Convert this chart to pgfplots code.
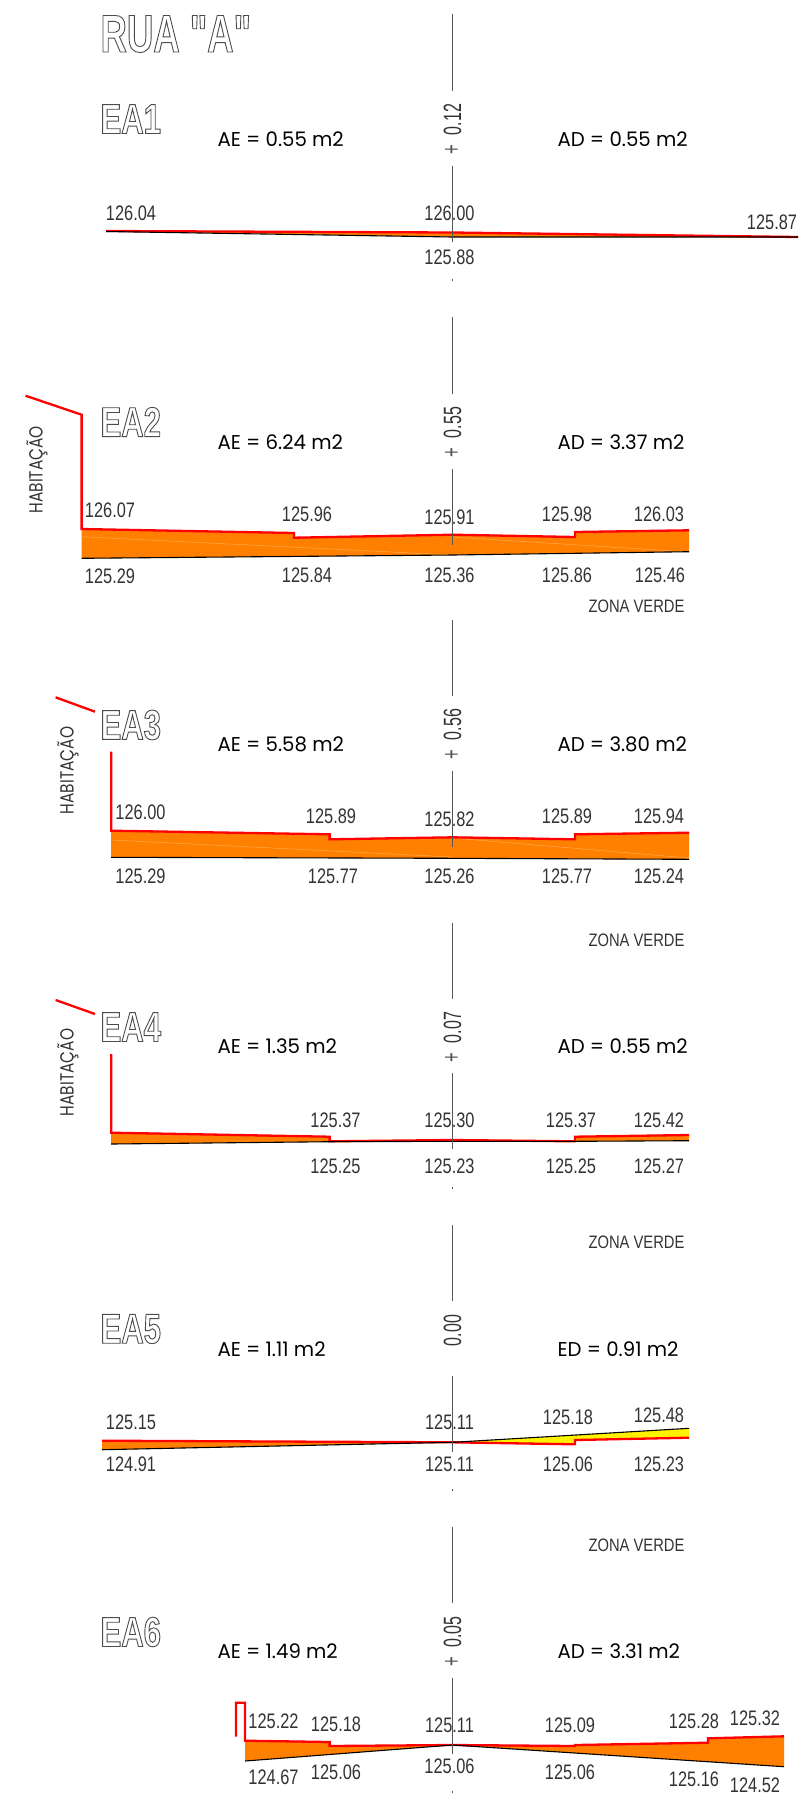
\documentclass[border=0pt]{standalone}
\usepackage{fontspec}
\usepackage{pgfplots}
\pgfplotsset{compat=1.18}
\setmainfont{Liberation Sans}
\newfontfamily\numfont[FakeStretch=0.78]{Liberation Sans}
\newfontfamily\cfont[FakeStretch=0.64]{Liberation Sans}
\newfontfamily\areafont[FakeStretch=0.985]{Poppins}
\newfontfamily\zonafont[FakeStretch=0.82]{Liberation Sans}
\newfontfamily\habfont[FakeStretch=0.81]{Poppins}
\newfontfamily\titlefont[FakeStretch=0.69]{Liberation Sans}
\newfontfamily\eafont[FakeStretch=0.74]{Liberation Sans}
\definecolor{terra}{HTML}{FF8000}
\definecolor{streak}{HTML}{FFA850}
\definecolor{linegray}{HTML}{555555}
\definecolor{txt}{HTML}{333333}
% outlined lettering
\newcommand\outl[1]{\special{pdf:code q 1 Tr 0.9 w 0.3 0.3 0.3 RG}#1\special{pdf:code Q}}
\newcommand\num[3]{\node[txt] at (axis cs:#1,#2) {\fontsize{21pt}{21pt}\numfont #3};}
\newcommand\area[3]{\node[black,anchor=west] at (axis cs:#1,#2) {\fontsize{20pt}{20pt}\areafont #3};}
\newcommand\zona[1]{\node[txt] at (axis cs:636.5,#1) {\fontsize{18pt}{18pt}\zonafont ZONA VERDE};}
\newcommand\hab[2]{\node[txt,rotate=90] at (axis cs:#1,#2) {\fontsize{19pt}{19pt}\habfont HABITAÇÃO};}
\newcommand\ea[2]{\node[anchor=west] at (axis cs:97,#1) {\fontsize{42pt}{42pt}\eafont\bfseries\outl{#2}};}
\newcommand\cota[2]{\node[txt,rotate=90] at (axis cs:452.6,#1) {\fontsize{25pt}{25pt}\cfont #2};}
\newcommand\plus[1]{\node[linegray,rotate=90] at (axis cs:452.6,#1) {\fontsize{26pt}{26pt}\cfont +};}
\begin{document}
\begin{tikzpicture}
\begin{axis}[
  scale only axis,
  width=799pt,
  height=1800pt,
  xmin=0, xmax=799,
  ymin=0, ymax=1800,
  y dir=reverse,
  hide axis,
  clip=false,
  every node/.append style={inner sep=0pt,outer sep=0pt},
]
% keeps the page at the full drawing size
\path (axis cs:0,0) rectangle (axis cs:799,1800);
% EA1
\addplot[fill=terra,draw=none] coordinates {(106,231) (452.6,232.5) (798,237) (452.6,237)} -- cycle;
\addplot[red,line width=2.3pt] coordinates {(106,231) (452.6,232.5) (798,237)};
\addplot[black,line width=1.1pt] coordinates {(106,231.5) (452.6,237) (798,237)};
% EA2
\addplot[fill=terra,draw=none] coordinates {(81.6,529) (294,533) (294,537.7) (452.6,534.7) (575,537) (575,532) (689,530.3) (689,551.7) (452.6,555) (81.6,558.3)} -- cycle;
\addplot[streak,line width=0.5pt] coordinates {(81.6,536.7) (452.6,555)};
\addplot[streak,line width=0.5pt] coordinates {(452.6,537) (689,552)};
\addplot[red,line width=2.3pt] coordinates {(25.5,395.7) (81.6,414.7) (81.6,529) (294,533) (294,537.7) (452.6,534.7) (575,537) (575,532) (689,530.3)};
\addplot[black,line width=1.1pt] coordinates {(81.6,558.3) (452.6,555) (689,551.7)};
% EA3
\addplot[fill=terra,draw=none] coordinates {(111.2,830.7) (329.6,834.3) (329.6,839.3) (452.6,837.3) (575,839.3) (575,834.3) (689,832.7) (689,859.3) (452.6,858.3) (111.2,857.3)} -- cycle;
\addplot[streak,line width=0.5pt] coordinates {(111.2,840) (452.6,857)};
\addplot[streak,line width=0.5pt] coordinates {(452.6,838) (689,858)};
\addplot[red,line width=2.3pt] coordinates {(55.6,697.3) (95,711.7)};
\addplot[red,line width=2.3pt] coordinates {(111.2,751.7) (111.2,830.7) (329.6,834.3) (329.6,839.3) (452.6,837.3) (575,839.3) (575,834.3) (689,832.7)};
\addplot[black,line width=1.1pt] coordinates {(111.2,857.3) (452.6,858.3) (689,859.3)};
% EA4
\addplot[fill=terra,draw=none] coordinates {(111.2,1132.7) (329.6,1136.7) (329.6,1141.7) (111.2,1144)} -- cycle;
\addplot[fill=terra,draw=none] coordinates {(575,1136.7) (689,1135) (689,1140.7) (575,1141.3)} -- cycle;
\addplot[red,line width=2.3pt] coordinates {(55.6,1000) (95,1014)};
\addplot[red,line width=2.3pt] coordinates {(111.2,1054) (111.2,1132.7) (329.6,1136.7) (329.6,1141.3) (452.6,1140) (575,1141.3) (575,1136.7) (689,1135)};
\addplot[black,line width=1.1pt] coordinates {(111.2,1144) (329.6,1141.7) (452.6,1141.3) (575,1141.3) (689,1140.7)};
% EA5
\addplot[fill=terra,draw=none] coordinates {(102,1440.7) (452.6,1442.3) (102,1449.7)} -- cycle;
\addplot[fill=yellow,draw=none] coordinates {(452.6,1442.3) (689,1428.3) (689,1437.7) (575,1440) (575,1444.3)} -- cycle;
\addplot[red,line width=2.3pt] coordinates {(102,1440.7) (452.6,1442.3) (575,1444.3) (575,1440) (689,1437.7)};
\addplot[black,line width=1.1pt] coordinates {(102,1449.7) (452.6,1442.3) (689,1428.3)};
% EA6
\addplot[fill=terra,draw=none] coordinates {(245,1740.7) (329.6,1742) (329.6,1746) (452.6,1745) (575,1746) (575,1745) (708,1742.7) (708,1738.3) (784,1736.3) (784,1766.7) (452.6,1745) (245,1761)} -- cycle;
\addplot[red,line width=2.3pt] coordinates {(236,1736.7) (236,1702.7) (245,1702.7) (245,1740.7) (329.6,1742) (329.6,1746) (452.6,1745) (575,1746) (575,1745) (708,1742.7) (708,1738.3) (784,1736.3)};
\addplot[black,line width=1.1pt] coordinates {(245,1761) (452.6,1745) (784,1766.7)};
% centre line, pieces between the labels
\addplot[linegray,line width=1pt] coordinates {(452.6,14) (452.6,91)};
\addplot[linegray,line width=1pt] coordinates {(452.6,166) (452.6,242)};
\addplot[linegray,line width=1pt] coordinates {(452.6,279) (452.6,280.5)};
\addplot[linegray,line width=1pt] coordinates {(452.6,317) (452.6,394)};
\addplot[linegray,line width=1pt] coordinates {(452.6,469) (452.6,545)};
\addplot[linegray,line width=1pt] coordinates {(452.6,620) (452.6,696)};
\addplot[linegray,line width=1pt] coordinates {(452.6,771) (452.6,847)};
\addplot[linegray,line width=1pt] coordinates {(452.6,923) (452.6,999)};
\addplot[linegray,line width=1pt] coordinates {(452.6,1073) (452.6,1149)};
\addplot[linegray,line width=1pt] coordinates {(452.6,1187) (452.6,1188.5)};
\addplot[linegray,line width=1pt] coordinates {(452.6,1225) (452.6,1301)};
\addplot[linegray,line width=1pt] coordinates {(452.6,1376) (452.6,1452)};
\addplot[linegray,line width=1pt] coordinates {(452.6,1489) (452.6,1490.5)};
\addplot[linegray,line width=1pt] coordinates {(452.6,1527) (452.6,1603)};
\addplot[linegray,line width=1pt] coordinates {(452.6,1678) (452.6,1754)};
\addplot[linegray,line width=1pt] coordinates {(452.6,1791) (452.6,1792.5)};
% headings
\node[anchor=west] at (axis cs:97,34) {\fontsize{53pt}{53pt}\titlefont\bfseries\outl{RUA "A"}};
\ea{119}{EA1}
\ea{422}{EA2}
\ea{725}{EA3}
\ea{1027}{EA4}
\ea{1329}{EA5}
\ea{1632}{EA6}
% areas
\area{214}{139}{AE = 0.55 m2}
\area{554}{139}{AD = 0.55 m2}
\area{214}{442}{AE = 6.24 m2}
\area{554}{442}{AD = 3.37 m2}
\area{214}{744}{AE = 5.58 m2}
\area{554}{744}{AD = 3.80 m2}
\area{214}{1046}{AE = 1.35 m2}
\area{554}{1046}{AD = 0.55 m2}
\area{214}{1349}{AE = 1.11 m2}
\area{554}{1349}{ED = 0.91 m2}
\area{214}{1651}{AE = 1.49 m2}
\area{554}{1651}{AD = 3.31 m2}
% centre labels
\cota{119.5}{0.12}\plus{150}
\cota{422.5}{0.55}\plus{452.7}
\cota{724.5}{0.56}\plus{754.3}
\cota{1027.5}{0.07}\plus{1057.7}
\cota{1330.5}{0.00}
\cota{1632}{0.05}\plus{1662}
% other labels
\hab{37}{469.7}
\hab{68}{770.5}
\hab{68}{1072.5}
\zona{606.7}
\zona{940}
\zona{1242.3}
\zona{1545}
% EA1 levels
\num{131}{213}{126.04}
\num{449.5}{213}{126.00}
\num{772}{222}{125.87}
\num{449.5}{257}{125.88}
% EA2 levels
\num{110}{510}{126.07}
\num{307}{514}{125.96}
\num{449.5}{517}{125.91}
\num{567}{514}{125.98}
\num{659}{514}{126.03}
\num{110}{576.7}{125.29}
\num{307}{575}{125.84}
\num{449.5}{575}{125.36}
\num{567}{575}{125.86}
\num{660}{575}{125.46}
% EA3 levels
\num{140.5}{812.7}{126.00}
\num{331}{816}{125.89}
\num{449.5}{819.3}{125.82}
\num{567}{816}{125.89}
\num{659}{816}{125.94}
\num{140.5}{876.7}{125.29}
\num{333}{876.7}{125.77}
\num{449.5}{876.7}{125.26}
\num{567}{876.7}{125.77}
\num{659}{876.7}{125.24}
% EA4 levels
\num{335.5}{1120}{125.37}
\num{449.5}{1120}{125.30}
\num{571}{1120}{125.37}
\num{659}{1120}{125.42}
\num{335.5}{1166}{125.25}
\num{449.5}{1166}{125.23}
\num{571}{1166}{125.25}
\num{659}{1166}{125.27}
% EA5 levels
\num{131}{1422.7}{125.15}
\num{449.5}{1422.7}{125.11}
\num{568}{1417.7}{125.18}
\num{659}{1415}{125.48}
\num{131}{1464.3}{124.91}
\num{449.5}{1464.3}{125.11}
\num{568}{1464.3}{125.06}
\num{659}{1464.3}{125.23}
% EA6 levels
\num{273.5}{1721.7}{125.22}
\num{336}{1724}{125.18}
\num{449.5}{1725}{125.11}
\num{570}{1725}{125.09}
\num{694}{1721.7}{125.28}
\num{755}{1718}{125.32}
\num{273.5}{1777.3}{124.67}
\num{336}{1772}{125.06}
\num{449.5}{1766}{125.06}
\num{570}{1772}{125.06}
\num{694}{1779}{125.16}
\num{755}{1785}{124.52}
\end{axis}
\end{tikzpicture}
\end{document}
